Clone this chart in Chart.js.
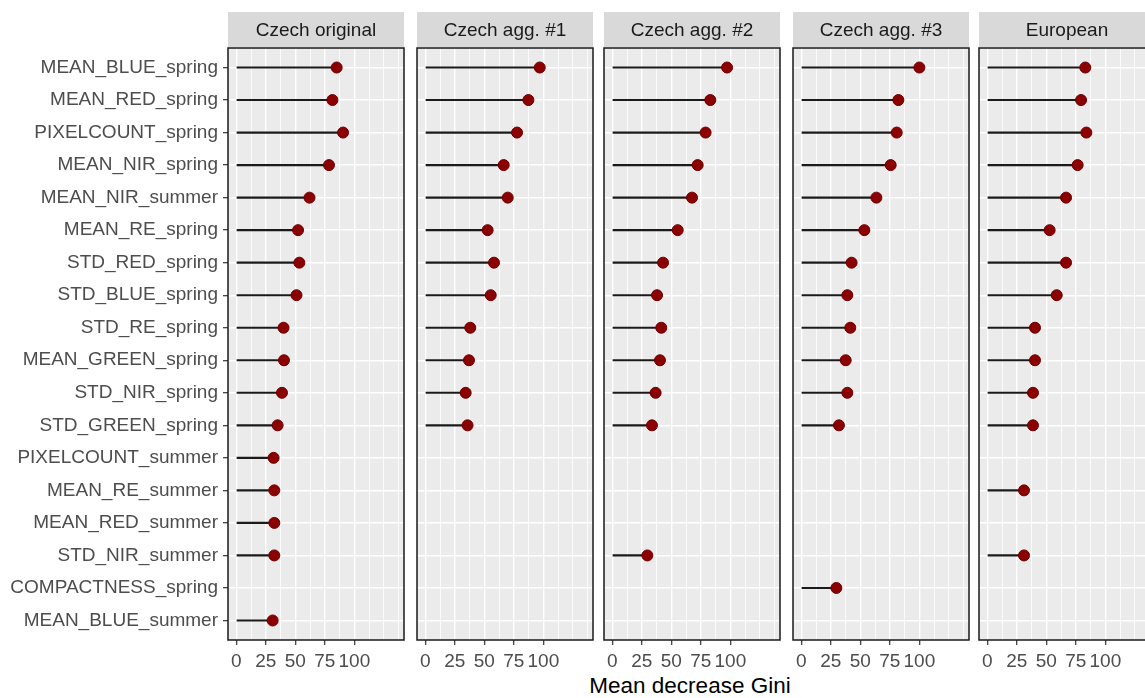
<!DOCTYPE html>
<html>
<head>
<meta charset="utf-8">
<script src="https://cdn.jsdelivr.net/npm/chart.js@4.4.1/dist/chart.umd.min.js"></script>
<style>
    html, body { margin: 0; padding: 0; background: #fff; }
    #wrap { position: relative; width: 1145px; height: 698px; overflow: hidden; }
    .panel { position: absolute; top: 0; height: 698px; }
    #xtitle {
        position: absolute; left: 490px; width: 400px; top: 673px;
        text-align: center; font: 22.5px 'Liberation Sans', Arial, sans-serif;
        line-height: 26px; color: #000;
    }
</style>
</head>
<body>
<div id="wrap"><div id="xtitle">Mean decrease Gini</div></div>
<script>
// ==========================================
// 1. DATA
// ==========================================
const features = [
    'MEAN_BLUE_spring', 'MEAN_RED_spring', 'PIXELCOUNT_spring', 'MEAN_NIR_spring',
    'MEAN_NIR_summer', 'MEAN_RE_spring', 'STD_RED_spring', 'STD_BLUE_spring',
    'STD_RE_spring', 'MEAN_GREEN_spring', 'STD_NIR_spring', 'STD_GREEN_spring',
    'PIXELCOUNT_summer', 'MEAN_RE_summer', 'MEAN_RED_summer', 'STD_NIR_summer',
    'COMPACTNESS_spring', 'MEAN_BLUE_summer'
];
const panelNames = ['Czech original', 'Czech agg. #1', 'Czech agg. #2', 'Czech agg. #3', 'European'];

const czechOriginal = [85, 81.4, 90.4, 78.5, 62, 52.3, 53.4, 51, 40, 40.4, 38.7, 35, 31.6, 32.2, 32.2, 32.2, null, 30.8];
const czechAgg1 = [96.9, 87.3, 77.7, 66.4, 69.8, 52.8, 58.2, 55.4, 38.1, 37, 34.2, 35.8, null, null, null, null, null, null];
const czechAgg2 = [97.2, 83, 79, 72.3, 67.5, 55.4, 43, 37.9, 41.5, 40.4, 36.7, 33.6, null, null, null, 29.7, null, null];
const czechAgg3 = [100, 82.2, 80.8, 75.7, 63.6, 53.4, 42.6, 39, 41.5, 37.6, 39, 31.9, null, null, null, null, 29.7, null];
const european = [83, 79.4, 83.9, 76.5, 66.7, 52.8, 66.7, 58.8, 40.4, 40.4, 38.7, 38.7, null, 31.1, null, 31.1, null, null];

const xTickLabels = [0, 25, 50, 75, 100];
const xGridStep = 12.5;
const xMin = -7, xMax = 142;

// ==========================================
// 2. LAYOUT
// ==========================================
const panelLefts = [228, 417, 604, 793, 979];
const panelWidth = 176;
const plotTop = 48, plotBottom = 640;
const stripTop = 12, stripBottom = 47;
const FONT = "'Liberation Sans', Arial, sans-serif";

Chart.defaults.font.family = FONT;

const series = [czechOriginal, czechAgg1, czechAgg2, czechAgg3, european];
const gridValues = [];
for (let v = 0; v <= xMax; v += xGridStep) gridValues.push(v);

const facetFrame = {
    id: 'facetFrame',
    beforeDraw(chart, args, opts) {
        const { ctx, chartArea: a } = chart;
        ctx.save();
        ctx.fillStyle = '#EBEBEB';
        ctx.fillRect(a.left, a.top, a.right - a.left, a.bottom - a.top);
        ctx.fillStyle = '#D9D9D9';
        ctx.fillRect(a.left, stripTop, a.right - a.left, stripBottom - stripTop);
        ctx.fillStyle = '#1A1A1A';
        ctx.font = '19px ' + FONT;
        ctx.textAlign = 'center';
        ctx.textBaseline = 'middle';
        ctx.fillText(opts.label, (a.left + a.right) / 2, (stripTop + stripBottom) / 2 + 1);
        ctx.restore();
    },
    afterDraw(chart) {
        const { ctx, chartArea: a } = chart;
        ctx.save();
        ctx.strokeStyle = '#1A1A1A';
        ctx.lineWidth = 1.5;
        ctx.strokeRect(a.left, a.top, a.right - a.left, a.bottom - a.top);
        ctx.restore();
    }
};

function makePanel(k) {
    const left = panelLefts[k];
    const boxLeft = k === 0 ? 0 : left - 10;
    const yW = left - boxLeft;
    const boxW = yW + panelWidth + 10;

    const div = document.createElement('div');
    div.className = 'panel';
    div.style.left = boxLeft + 'px';
    div.style.width = boxW + 'px';
    const canvas = document.createElement('canvas');
    div.appendChild(canvas);
    document.getElementById('wrap').appendChild(div);

    const pts = [];
    series[k].forEach((v, i) => { if (v !== null) pts.push({ x: v, y: i }); });

    new Chart(canvas, {
        type: 'bar',
        data: {
            datasets: [
                {
                    type: 'scatter',
                    data: pts,
                    pointRadius: 5.5,
                    pointBackgroundColor: '#8B0000',
                    pointBorderColor: '#6E0000',
                    pointBorderWidth: 1
                },
                {
                    type: 'bar',
                    data: pts,
                    backgroundColor: '#1A1A1A',
                    barThickness: 1.5
                }
            ]
        },
        options: {
            indexAxis: 'y',
            responsive: true,
            maintainAspectRatio: false,
            animation: false,
            layout: { padding: { top: plotTop, right: boxW - yW - panelWidth, bottom: 0, left: 0 } },
            plugins: {
                legend: { display: false },
                tooltip: { enabled: false },
                facetFrame: { label: panelNames[k] }
            },
            scales: {
                x: {
                    type: 'linear',
                    min: xMin,
                    max: xMax,
                    afterBuildTicks: s => { s.ticks = gridValues.map(v => ({ value: v })); },
                    afterFit: s => { s.height = 698 - plotBottom; },
                    ticks: {
                        autoSkip: false,
                        maxRotation: 0,
                        padding: 5,
                        color: '#4D4D4D',
                        font: { size: 19 },
                        callback: v => xTickLabels.includes(v) ? String(v) : ''
                    },
                    grid: {
                        color: '#FFFFFF',
                        lineWidth: c => (c.tick && xTickLabels.includes(c.tick.value)) ? 1.4 : 0.8,
                        tickColor: c => (c.tick && xTickLabels.includes(c.tick.value)) ? '#333333' : 'rgba(0,0,0,0)',
                        tickLength: 5,
                        tickWidth: 1.2
                    },
                    border: { display: false }
                },
                y: {
                    type: 'linear',
                    reverse: true,
                    offset: false,
                    min: -0.6,
                    max: features.length - 0.4,
                    afterBuildTicks: s => { s.ticks = features.map((f, i) => ({ value: i })); },
                    afterFit: s => { s.width = yW; },
                    ticks: {
                        display: k === 0,
                        autoSkip: false,
                        padding: 5,
                        color: '#4D4D4D',
                        font: { size: 19 },
                        callback: v => features[v]
                    },
                    grid: {
                        offset: false,
                        color: '#FFFFFF',
                        lineWidth: 1.4,
                        drawTicks: k === 0,
                        tickLength: 5,
                        tickColor: '#333333',
                        tickWidth: 1.2
                    },
                    border: { display: false }
                }
            }
        },
        plugins: [facetFrame]
    });
}

panelNames.forEach((name, k) => makePanel(k));
</script>
</body>
</html>
